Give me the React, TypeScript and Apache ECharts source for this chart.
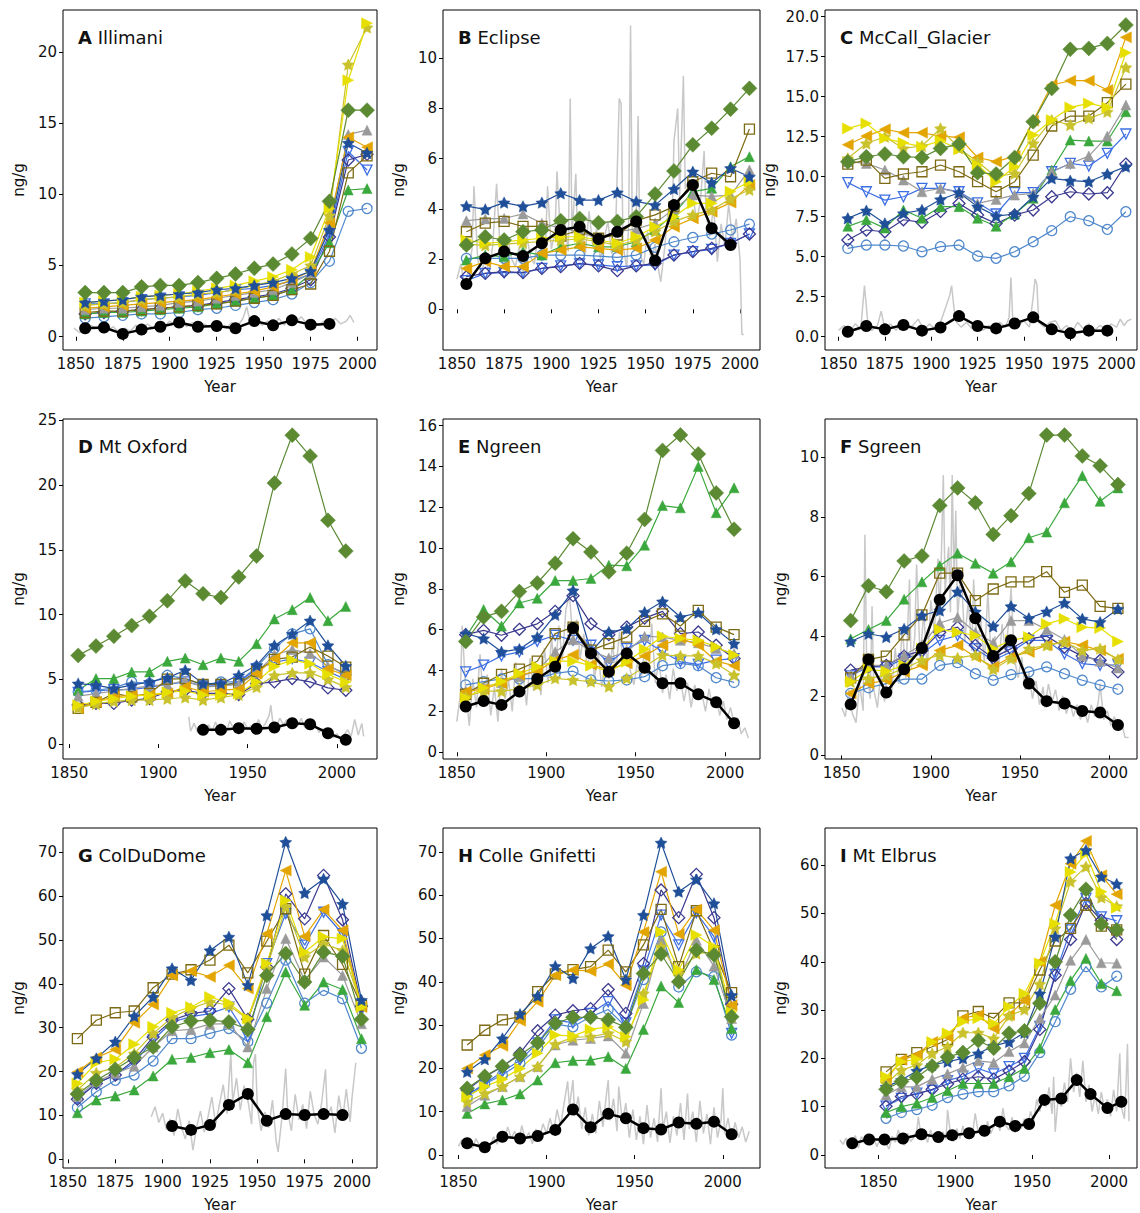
import React, { useEffect, useRef } from "react";
import * as echarts from "echarts";

// ---------- DATA ----------
const DECADES = [1855, 1865, 1875, 1885, 1895, 1905, 1915, 1925, 1935, 1945, 1955, 1965, 1975, 1985, 1995, 2005];

// Panel A - Illimani
const A_MODELS = {
  star: [2.4, 2.5, 2.6, 2.8, 2.9, 3.0, 3.1, 3.3, 3.4, 3.6, 3.8, 4.1, 4.6, 7.5, 13.6, 12.9],
  diamond: [3.1, 3.1, 3.1, 3.5, 3.6, 3.6, 3.8, 4.1, 4.4, 4.8, 5.1, 5.8, 6.9, 9.5, 15.9, 15.9],
  square: [1.7, 1.8, 1.8, 1.9, 2.0, 2.1, 2.2, 2.3, 2.5, 2.7, 2.9, 3.3, 3.7, 6.0, 11.5, 12.7],
  ltri: [2.0, 2.1, 2.2, 2.3, 2.4, 2.5, 2.6, 2.8, 3.0, 3.2, 3.5, 4.0, 4.6, 8.0, 14.0, 13.3],
  ystar: [2.2, 2.3, 2.4, 2.6, 2.7, 2.8, 3.0, 3.1, 3.3, 3.6, 3.9, 4.4, 5.0, 8.5, 19.1, 21.7],
  rtri: [2.4, 2.5, 2.6, 2.8, 2.9, 3.0, 3.2, 3.4, 3.6, 3.9, 4.2, 4.7, 5.6, 9.0, 18.0, 22.0],
  gtri: [1.9, 2.0, 2.0, 2.1, 2.2, 2.4, 2.5, 2.7, 2.9, 3.1, 3.3, 3.8, 4.4, 7.8, 14.2, 14.5],
  grtri: [1.6, 1.7, 1.7, 1.8, 1.9, 2.0, 2.1, 2.3, 2.5, 2.7, 2.9, 3.3, 4.4, 6.6, 10.3, 10.4],
  circ: [1.3, 1.4, 1.5, 1.6, 1.6, 1.7, 1.9, 2.0, 2.2, 2.4, 2.6, 3.0, 3.8, 5.3, 8.8, 9.0],
  dtri: [2.3, 2.3, 2.4, 2.6, 2.7, 2.8, 2.9, 3.1, 3.3, 3.4, 3.6, 3.9, 4.4, 7.2, 13.0, 11.7],
  odia: [1.6, 1.7, 1.8, 1.9, 2.0, 2.1, 2.2, 2.4, 2.6, 2.8, 3.0, 3.4, 4.0, 7.0, 12.4, 12.8],
};
const A_OBS_YEARS = [1855, 1865, 1875, 1885, 1895, 1905, 1915, 1925, 1935, 1945, 1955, 1965, 1975, 1985];
const A_OBS = [0.6, 0.65, 0.2, 0.5, 0.7, 1.0, 0.7, 0.75, 0.6, 1.1, 0.8, 1.15, 0.85, 0.9];
const A_GREY = [[1849,0.6],[1852,0.3],[1855,0.5],[1858,0.8],[1861,0.6],[1864,0.9],[1867,0.5],[1870,0.7],[1873,0.3],[1876,0.6],[1879,0.4],[1882,0.8],[1885,0.5],[1888,0.9],[1891,0.6],[1894,1.0],[1897,0.7],[1900,1.1],[1903,0.8],[1906,1.2],[1909,0.7],[1912,1.0],[1915,0.6],[1918,0.9],[1921,0.7],[1924,1.1],[1927,0.8],[1930,0.6],[1933,1.0],[1936,0.7],[1939,1.3],[1941,2.1],[1943,0.9],[1946,1.4],[1949,0.8],[1952,1.1],[1955,0.7],[1958,1.3],[1961,0.8],[1964,1.5],[1967,1.0],[1970,1.4],[1973,0.9],[1976,1.2],[1979,0.8],[1982,1.1],[1985,0.9],[1988,1.3],[1991,0.9],[1994,1.1],[1996,1.5],[1998,1.0]];

// Panel B - Eclipse
const B_MODELS = {
  star: [4.11, 3.98, 4.25, 4.1, 4.25, 4.62, 4.35, 4.35, 4.65, 4.3, 4.15, 4.79, 5.48, 5.04, 5.62, 5.28],
  diamond: [2.56, 2.89, 2.76, 3.09, 3.16, 3.53, 3.62, 3.45, 3.5, 3.69, 4.59, 5.51, 6.55, 7.21, 7.97, 8.8],
  square: [3.09, 3.43, 3.5, 3.3, 3.3, 2.92, 3.16, 2.83, 2.96, 3.53, 3.76, 4.09, 5.08, 5.42, 5.28, 7.18],
  ltri: [1.63, 1.9, 1.7, 1.7, 2.23, 2.36, 2.49, 2.43, 2.36, 2.43, 2.76, 3.29, 3.62, 3.89, 4.25, 4.95],
  ystar: [2.6, 2.55, 2.6, 2.65, 2.7, 2.75, 2.8, 2.7, 2.55, 2.75, 3.1, 3.5, 3.76, 3.95, 4.4, 4.76],
  rtri: [2.76, 2.63, 2.69, 2.76, 2.83, 2.89, 2.89, 2.76, 2.63, 2.89, 3.29, 3.69, 4.22, 4.22, 4.69, 5.08],
  gtri: [3.53, 3.6, 3.62, 3.8, 3.43, 3.23, 3.09, 2.8, 3.09, 3.2, 3.43, 4.0, 4.55, 4.5, 4.55, 5.55],
  grtri: [1.96, 2.16, 2.1, 2.3, 2.16, 2.49, 2.63, 2.49, 2.49, 2.69, 3.16, 3.8, 4.69, 4.82, 5.68, 6.08],
  circ: [2.03, 2.03, 2.03, 2.03, 2.16, 2.16, 2.16, 2.12, 2.07, 2.16, 2.47, 2.69, 2.86, 3.0, 3.16, 3.39],
  dtri: [1.14, 1.43, 1.46, 1.46, 1.63, 1.73, 1.81, 1.77, 1.7, 1.73, 1.77, 2.16, 2.3, 2.39, 2.63, 3.0],
  odia: [1.3, 1.43, 1.5, 1.46, 1.63, 1.7, 1.83, 1.73, 1.54, 1.73, 1.83, 2.16, 2.3, 2.43, 2.63, 3.0],
};
const B_OBS_YEARS = [1855, 1865, 1875, 1885, 1895, 1905, 1915, 1925, 1935, 1945, 1955, 1965, 1975, 1985, 1995];
const B_OBS = [1.01, 2.03, 2.3, 2.12, 2.63, 3.16, 3.29, 2.8, 3.09, 3.5, 1.94, 4.15, 4.95, 3.23, 2.56];
const B_GREY = [[1850,1.2],[1852,1.8],[1854,1.0],[1856,1.5],[1858,2.4],[1859,4.9],[1861,2.0],[1863,1.3],[1865,2.2],[1867,1.4],[1869,2.6],[1871,5.0],[1873,2.2],[1875,1.6],[1877,2.8],[1879,2.0],[1881,1.7],[1883,2.5],[1885,1.3],[1887,2.9],[1889,2.1],[1891,1.8],[1893,3.0],[1895,2.2],[1897,2.6],[1898,4.9],[1900,2.4],[1902,3.1],[1903,5.5],[1905,2.8],[1907,3.5],[1909,2.3],[1910,8.4],[1911,3.0],[1913,5.4],[1914,2.6],[1916,3.4],[1918,2.2],[1920,3.9],[1922,2.5],[1924,3.2],[1926,2.0],[1928,2.8],[1930,3.5],[1932,2.2],[1934,2.9],[1936,8.4],[1937,8.2],[1938,2.6],[1940,1.6],[1941,3.5],[1942,11.3],[1943,2.4],[1945,3.8],[1946,7.7],[1947,2.2],[1949,1.8],[1951,3.1],[1953,1.9],[1955,2.6],[1957,1.5],[1958,1.1],[1960,2.4],[1962,4.0],[1964,3.2],[1965,6.7],[1967,8.0],[1968,4.4],[1970,9.3],[1971,4.8],[1973,5.2],[1975,4.6],[1977,3.5],[1979,4.3],[1981,6.3],[1982,3.8],[1984,2.9],[1986,4.1],[1988,1.9],[1990,3.4],[1992,2.5],[1994,4.2],[1996,2.8],[1998,3.6],[2000,2.0],[2001,-1.0],[2002,-1.0]];

// Panel C - McCall_Glacier
const C_MODELS = {
  star: [7.4, 7.88, 7.08, 7.71, 7.92, 8.58, 9.0, 8.13, 7.54, 7.67, 8.75, 9.9, 9.75, 9.69, 10.17, 10.63],
  diamond: [10.94, 11.25, 11.42, 11.25, 11.2, 11.77, 12.04, 10.25, 10.17, 11.2, 13.44, 15.52, 17.96, 18.02, 18.33, 19.48],
  square: [10.79, 11.04, 9.9, 10.17, 10.31, 10.73, 10.31, 9.69, 9.06, 9.69, 11.35, 13.17, 13.79, 13.79, 14.63, 15.79],
  ltri: [12.0, 12.54, 12.96, 12.75, 12.75, 12.54, 12.46, 11.2, 10.94, 11.29, 13.5, 15.73, 16.0, 16.0, 15.42, 18.71],
  ystar: [11.15, 12.08, 12.5, 11.77, 11.92, 13.02, 11.77, 10.94, 10.0, 10.2, 12.08, 13.54, 13.23, 13.65, 14.06, 16.83],
  rtri: [13.02, 13.33, 12.4, 12.12, 11.88, 12.25, 11.71, 10.73, 9.69, 10.63, 12.6, 13.54, 14.33, 14.58, 14.33, 17.75],
  gtri: [10.94, 10.83, 10.42, 9.79, 9.06, 9.27, 9.0, 8.33, 8.58, 8.85, 8.96, 10.31, 10.83, 11.29, 12.54, 14.48],
  grtri: [6.9, 7.31, 6.79, 7.92, 7.4, 8.13, 8.13, 7.4, 6.9, 7.67, 8.65, 10.42, 12.29, 12.23, 12.23, 14.06],
  circ: [5.52, 5.73, 5.73, 5.67, 5.31, 5.63, 5.73, 5.04, 4.9, 5.31, 5.94, 6.63, 7.5, 7.25, 6.71, 7.81],
  dtri: [9.63, 9.06, 8.54, 8.75, 9.27, 9.27, 9.06, 8.37, 7.67, 9.0, 9.0, 10.31, 10.83, 10.67, 11.46, 12.67],
  odia: [6.04, 6.67, 6.56, 7.31, 7.15, 7.83, 8.33, 7.6, 7.08, 7.6, 7.92, 8.75, 9.06, 8.92, 9.0, 10.79],
};
const C_OBS_YEARS = [1855, 1865, 1875, 1885, 1895, 1905, 1915, 1925, 1935, 1945, 1955, 1965, 1975, 1985, 1995];
const C_OBS = [0.31, 0.67, 0.46, 0.73, 0.38, 0.58, 1.29, 0.67, 0.52, 0.83, 1.21, 0.46, 0.21, 0.38, 0.38];
const C_GREY = [[1850,0.4],[1853,0.7],[1856,0.3],[1859,0.8],[1862,0.5],[1864,3.2],[1866,0.6],[1868,0.4],[1871,0.7],[1873,1.6],[1875,0.5],[1878,0.8],[1881,0.4],[1884,0.9],[1887,0.5],[1890,0.7],[1893,1.1],[1896,0.4],[1899,0.8],[1902,0.5],[1905,0.9],[1908,1.9],[1910,2.6],[1911,3.2],[1913,1.0],[1916,0.6],[1919,0.9],[1922,0.5],[1925,0.8],[1928,0.4],[1931,0.7],[1934,0.5],[1937,0.9],[1940,0.6],[1942,1.2],[1943,3.7],[1944,1.0],[1947,0.7],[1950,1.0],[1953,0.6],[1955,2.5],[1956,3.6],[1957,3.3],[1958,0.9],[1961,0.6],[1964,0.9],[1967,1.0],[1970,0.4],[1973,0.7],[1976,0.3],[1979,0.9],[1982,0.5],[1985,0.8],[1988,0.4],[1991,0.7],[1994,0.5],[1997,0.8],[2000,0.6],[2002,1.1],[2004,0.7],[2006,1.0],[2008,1.1]];

// Panel D - Mt Oxford
const D_MODELS = {
  star: [4.67, 4.55, 4.29, 4.55, 4.8, 5.11, 5.7, 4.67, 4.67, 5.31, 6.08, 7.62, 8.51, 9.53, 7.62, 6.03],
  diamond: [6.85, 7.57, 8.33, 9.15, 9.87, 11.07, 12.6, 11.6, 11.32, 12.9, 14.52, 20.15, 23.85, 22.24, 17.28, 14.9],
  square: [2.76, 3.22, 3.91, 3.65, 3.91, 5.01, 5.06, 4.6, 4.6, 4.67, 5.62, 6.54, 6.72, 7.49, 6.8, 5.95],
  ltri: [2.76, 3.27, 3.65, 3.78, 3.78, 3.91, 4.42, 4.04, 4.16, 4.24, 5.44, 6.59, 7.82, 7.82, 5.82, 5.31],
  ystar: [2.8, 3.1, 3.3, 3.4, 3.4, 3.5, 3.6, 3.4, 3.6, 3.8, 4.4, 5.3, 5.5, 5.5, 5.0, 4.4],
  rtri: [3.0, 3.3, 3.5, 3.7, 3.8, 4.0, 4.1, 3.8, 3.8, 3.9, 4.8, 6.0, 6.5, 6.2, 5.4, 4.8],
  gtri: [3.7, 3.9, 4.1, 4.3, 4.5, 4.6, 4.9, 4.4, 4.5, 4.6, 5.5, 6.9, 7.3, 7.0, 6.0, 5.5],
  grtri: [4.16, 5.06, 5.06, 5.57, 5.57, 6.39, 6.64, 6.13, 6.64, 6.39, 7.75, 9.66, 10.38, 11.32, 9.53, 10.63],
  circ: [4.04, 4.16, 4.34, 4.8, 4.67, 5.31, 5.06, 4.55, 4.8, 4.8, 5.95, 7.41, 8.51, 8.9, 6.13, 5.31],
  dtri: [4.0, 4.1, 4.2, 4.2, 4.4, 4.6, 4.8, 4.5, 4.5, 4.8, 5.8, 6.3, 6.6, 6.3, 5.6, 5.0],
  odia: [3.02, 3.14, 3.14, 3.4, 3.52, 4.04, 4.16, 3.91, 3.91, 3.83, 4.67, 4.8, 5.06, 4.8, 4.34, 4.16],
};
const D_OBS_YEARS = [1925, 1935, 1945, 1955, 1965, 1975, 1985, 1995, 2005];
const D_OBS = [1.1, 1.1, 1.23, 1.18, 1.28, 1.61, 1.53, 0.84, 0.33];
const D_GREY = [[1917,2.1],[1918,1.0],[1920,1.6],[1922,0.9],[1924,1.3],[1926,0.7],[1928,1.5],[1930,1.0],[1932,1.7],[1934,1.1],[1936,1.4],[1938,0.9],[1940,1.8],[1942,1.2],[1944,1.5],[1946,1.0],[1948,1.7],[1950,1.2],[1952,1.4],[1954,0.8],[1956,1.9],[1958,1.2],[1960,1.6],[1962,2.2],[1963,3.0],[1964,1.8],[1966,1.3],[1968,2.0],[1970,1.5],[1972,1.9],[1974,1.2],[1976,1.7],[1978,1.4],[1980,2.0],[1982,1.3],[1984,1.6],[1986,1.1],[1988,1.5],[1990,0.9],[1992,1.2],[1994,0.7],[1996,0.9],[1998,0.5],[2000,0.8],[2002,0.4],[2004,0.7],[2006,1.1],[2008,0.6],[2010,1.9],[2012,0.7],[2014,1.6],[2015,0.6]];

// Panel E - Ngreen
const E_MODELS = {
  star: [5.81, 5.57, 4.92, 5.05, 5.64, 6.73, 7.92, 4.92, 5.89, 6.05, 6.86, 7.38, 6.62, 6.83, 6.02, 5.32],
  diamond: [5.43, 6.62, 6.9, 7.87, 8.29, 9.26, 10.46, 9.81, 8.84, 9.75, 11.4, 14.78, 15.54, 14.61, 12.7, 10.92],
  square: [2.84, 3.38, 3.81, 4.07, 4.46, 5.81, 6.13, 5.0, 5.32, 5.64, 6.41, 6.78, 6.18, 6.95, 6.13, 5.76],
  ltri: [2.97, 3.1, 3.38, 3.78, 3.97, 4.51, 4.78, 4.3, 4.03, 4.35, 4.72, 5.24, 5.59, 5.24, 4.46, 4.24],
  ystar: [2.72, 2.99, 2.99, 3.1, 3.3, 3.62, 3.54, 3.46, 3.22, 3.62, 4.19, 4.76, 4.72, 4.72, 4.35, 3.78],
  rtri: [2.67, 3.16, 3.46, 3.86, 4.19, 4.46, 4.46, 4.24, 3.94, 4.43, 5.05, 5.68, 5.57, 5.48, 5.16, 4.76],
  gtri: [3.0, 3.2, 3.4, 3.7, 4.0, 4.92, 5.51, 4.95, 4.62, 4.92, 5.68, 5.64, 5.48, 5.36, 5.08, 4.84],
  grtri: [5.64, 6.99, 6.18, 7.31, 7.54, 8.41, 8.41, 8.51, 9.16, 9.13, 10.14, 12.08, 11.97, 14.0, 11.73, 12.95],
  circ: [3.3, 3.46, 3.59, 3.59, 3.62, 3.86, 3.97, 3.54, 3.49, 3.54, 3.7, 4.24, 4.35, 4.24, 3.65, 3.42],
  dtri: [3.94, 4.27, 4.72, 4.92, 5.43, 5.73, 5.48, 5.24, 4.35, 5.08, 5.48, 4.92, 4.43, 4.3, 4.51, 4.59],
  odia: [5.76, 5.97, 5.73, 6.02, 6.29, 6.9, 7.67, 6.29, 5.76, 6.13, 6.57, 6.9, 5.81, 5.89, 5.24, 4.59],
};
const E_OBS_YEARS = DECADES;
const E_OBS = [2.24, 2.51, 2.32, 2.97, 3.59, 4.19, 6.08, 4.84, 3.94, 4.84, 4.14, 3.38, 3.38, 2.84, 2.45, 1.42];
const E_GREY = [[1850,1.5],[1852,2.8],[1853,6.2],[1855,3.0],[1857,1.3],[1859,3.6],[1861,2.2],[1863,4.8],[1865,2.4],[1867,3.8],[1869,1.8],[1871,3.2],[1873,1.5],[1875,4.1],[1877,2.6],[1879,3.5],[1881,2.0],[1883,4.4],[1885,2.7],[1887,3.9],[1889,2.3],[1891,4.6],[1893,3.0],[1895,4.2],[1897,2.8],[1899,5.1],[1901,3.4],[1903,5.6],[1905,3.8],[1907,6.2],[1909,4.5],[1911,7.0],[1913,7.7],[1915,5.4],[1917,6.5],[1919,4.6],[1921,5.8],[1923,4.0],[1925,5.5],[1927,3.6],[1929,4.9],[1931,3.2],[1933,4.4],[1935,3.6],[1937,5.2],[1939,4.1],[1941,5.9],[1943,4.5],[1945,5.3],[1947,4.0],[1949,3.3],[1951,4.4],[1953,3.6],[1955,5.0],[1957,3.9],[1959,6.3],[1961,3.4],[1963,4.5],[1965,2.9],[1967,3.8],[1969,2.6],[1971,4.1],[1973,3.0],[1975,3.6],[1977,2.5],[1979,3.4],[1981,2.2],[1983,3.3],[1985,2.6],[1987,2.9],[1989,2.0],[1991,3.1],[1993,2.2],[1995,2.7],[1997,1.8],[1999,2.5],[2001,1.6],[2003,2.2],[2005,1.4],[2007,1.7],[2009,0.9],[2011,1.2],[2013,0.7]];

// Panel F - Sgreen
const F_MODELS = {
  star: [3.82, 4.08, 3.97, 4.24, 4.69, 4.86, 5.49, 4.82, 4.33, 5.0, 4.6, 4.82, 5.11, 4.58, 4.47, 4.91],
  diamond: [4.52, 5.69, 5.49, 6.52, 6.69, 8.38, 8.97, 8.47, 7.41, 8.04, 8.78, 10.74, 10.74, 10.04, 9.71, 9.08],
  square: [2.6, 3.22, 3.33, 4.04, 4.71, 6.11, 6.11, 5.19, 5.58, 5.82, 5.82, 6.16, 5.47, 5.71, 5.0, 4.93],
  ltri: [2.08, 2.41, 2.52, 2.8, 3.02, 3.52, 3.69, 3.3, 2.97, 3.3, 3.47, 3.69, 3.82, 3.69, 3.52, 3.24],
  ystar: [2.47, 2.58, 2.69, 2.91, 3.19, 3.36, 3.27, 3.36, 2.89, 3.24, 3.58, 3.69, 3.8, 3.52, 3.58, 3.22],
  rtri: [2.47, 2.89, 2.82, 3.02, 3.58, 4.22, 4.13, 4.02, 3.58, 3.86, 3.97, 4.41, 4.58, 4.3, 4.27, 3.82],
  gtri: [2.69, 3.02, 3.02, 3.36, 3.71, 4.44, 4.63, 4.13, 3.78, 4.52, 4.52, 4.22, 3.89, 3.33, 3.16, 2.93],
  grtri: [3.91, 4.22, 4.52, 5.24, 5.82, 6.36, 6.78, 6.44, 6.11, 6.49, 7.3, 7.49, 8.47, 9.38, 8.52, 8.97],
  circ: [2.08, 2.27, 2.41, 2.56, 2.56, 3.02, 3.11, 2.74, 2.52, 2.71, 2.8, 2.97, 2.74, 2.52, 2.36, 2.22],
  dtri: [2.67, 2.97, 2.97, 3.24, 3.41, 3.86, 4.02, 3.58, 3.19, 3.47, 3.86, 3.86, 3.41, 3.08, 3.02, 3.04],
  odia: [2.86, 2.97, 3.02, 3.33, 3.52, 4.13, 4.3, 3.69, 3.27, 3.58, 3.91, 4.0, 3.63, 3.33, 3.19, 2.8],
};
const F_OBS_YEARS = DECADES;
const F_OBS = [1.71, 3.22, 2.11, 2.89, 3.6, 5.22, 6.04, 4.6, 3.33, 3.86, 2.41, 1.82, 1.74, 1.49, 1.44, 1.02];
const F_GREY = [[1850,1.6],[1852,1.3],[1854,2.2],[1856,1.4],[1858,1.1],[1860,2.4],[1862,1.5],[1863,7.4],[1864,3.0],[1866,1.9],[1867,5.0],[1868,2.2],[1870,1.6],[1872,2.8],[1874,1.8],[1876,3.2],[1878,2.1],[1880,3.6],[1882,2.4],[1884,4.3],[1886,2.6],[1888,5.9],[1889,2.9],[1891,4.0],[1892,6.4],[1894,3.2],[1896,4.8],[1898,2.9],[1900,5.2],[1902,4.1],[1904,6.6],[1905,4.5],[1907,9.4],[1908,5.5],[1910,7.0],[1911,4.8],[1912,9.4],[1913,5.8],[1914,8.2],[1915,4.6],[1917,6.2],[1919,3.8],[1921,5.2],[1923,3.5],[1924,5.9],[1926,3.6],[1928,4.6],[1930,3.1],[1932,5.5],[1934,3.0],[1936,4.0],[1938,2.9],[1940,4.4],[1942,3.4],[1944,4.7],[1945,5.6],[1947,3.2],[1949,2.6],[1951,3.3],[1953,2.2],[1955,2.8],[1957,1.9],[1959,2.5],[1961,1.7],[1963,2.3],[1964,1.6],[1966,2.4],[1968,1.8],[1970,2.2],[1972,1.5],[1974,2.0],[1976,1.4],[1978,1.8],[1980,1.3],[1982,1.7],[1984,1.2],[1986,1.6],[1988,1.1],[1990,1.7],[1992,1.3],[1994,1.8],[1995,2.4],[1997,1.2],[1999,1.5],[2001,1.0],[2003,1.3],[2005,0.9],[2007,1.1],[2009,0.6],[2011,0.6]];

// Panel G - ColDuDome
const G_MODELS = {
  star: [19.4, 23.0, 26.8, 32.6, 37.0, 43.5, 40.8, 47.6, 50.7, 39.7, 55.6, 72.3, 60.7, 63.9, 58.2, 36.3],
  diamond: [14.9, 18.0, 20.5, 23.2, 25.6, 30.2, 31.5, 31.7, 31.3, 29.6, 41.9, 46.9, 40.4, 47.2, 46.3, 31.9],
  square: [27.5, 31.7, 33.4, 33.8, 39.1, 42.2, 43.2, 45.4, 48.8, 42.5, 49.7, 57.1, 42.2, 51.0, 44.4, 35.1],
  ltri: [19.9, 23.2, 25.0, 31.1, 35.3, 41.9, 42.9, 41.6, 44.2, 38.9, 51.4, 65.8, 50.8, 56.9, 52.2, 34.7],
  ystar: [15.8, 19.7, 20.9, 24.1, 28.7, 32.3, 34.4, 35.9, 35.1, 31.9, 43.5, 57.5, 46.1, 49.1, 47.6, 35.1],
  rtri: [17.3, 22.0, 22.8, 26.2, 30.2, 33.4, 34.7, 37.0, 35.6, 32.1, 44.6, 59.0, 47.2, 50.7, 50.3, 34.7],
  gtri: [14.3, 17.7, 19.6, 21.2, 25.6, 29.3, 29.6, 30.8, 30.9, 25.6, 38.9, 50.3, 40.8, 46.1, 41.9, 30.9],
  grtri: [10.6, 13.5, 14.4, 15.8, 19.0, 22.8, 23.2, 24.3, 25.0, 22.0, 32.5, 42.7, 35.1, 40.4, 38.7, 27.5],
  circ: [11.8, 15.4, 18.0, 19.2, 22.4, 27.5, 27.5, 28.7, 29.8, 26.8, 35.6, 45.4, 35.6, 38.5, 36.6, 25.3],
  dtri: [13.9, 17.3, 19.2, 22.0, 27.2, 31.3, 32.5, 33.2, 34.7, 27.9, 44.6, 56.0, 48.8, 56.3, 51.4, 34.0],
  odia: [13.7, 17.3, 19.2, 22.6, 27.9, 31.7, 33.2, 33.8, 38.9, 31.9, 43.8, 60.5, 54.8, 64.7, 54.6, 34.9],
};
const G_OBS_YEARS = [1905, 1915, 1925, 1935, 1945, 1955, 1965, 1975, 1985, 1995];
const G_OBS = [7.6, 6.7, 7.8, 12.4, 14.9, 8.8, 10.3, 10.1, 10.3, 10.1];
const G_GREY = [[1894,9.7],[1896,12.0],[1898,8.4],[1900,10.5],[1902,6.8],[1904,9.2],[1906,5.4],[1908,11.5],[1910,7.2],[1912,4.6],[1914,8.8],[1916,2.1],[1918,7.5],[1920,11.0],[1922,6.2],[1924,9.8],[1926,14.2],[1928,8.0],[1930,12.5],[1932,17.0],[1934,10.4],[1936,24.0],[1937,13.0],[1939,18.5],[1941,11.2],[1943,16.8],[1945,13.5],[1947,8.0],[1948,22.0],[1949,24.0],[1950,12.0],[1952,6.5],[1954,10.8],[1956,7.2],[1958,13.5],[1960,4.0],[1961,1.7],[1963,9.5],[1965,20.7],[1966,11.0],[1968,6.5],[1970,14.8],[1972,9.0],[1974,12.5],[1976,7.0],[1978,15.5],[1980,10.2],[1982,8.0],[1984,13.0],[1986,20.5],[1987,9.5],[1989,12.0],[1991,6.0],[1993,14.5],[1995,9.0],[1997,16.0],[1999,8.5],[2000,14.0],[2002,22.0]];

// Panel H - Colle Gnifetti
const H_MODELS = {
  star: [19.2, 22.1, 26.9, 32.5, 36.7, 43.6, 40.8, 47.7, 50.5, 40.5, 55.4, 72.1, 60.8, 63.6, 58.1, 36.9],
  diamond: [15.4, 18.2, 20.5, 23.1, 25.9, 30.4, 31.8, 31.8, 31.2, 29.5, 41.9, 46.4, 40.0, 47.3, 46.2, 31.9],
  square: [25.4, 28.8, 31.2, 31.9, 37.7, 41.8, 42.8, 43.5, 47.3, 42.3, 48.5, 56.7, 43.5, 56.4, 47.2, 37.5],
  ltri: [20.0, 23.1, 25.2, 31.0, 35.4, 41.5, 42.7, 42.5, 44.1, 39.2, 51.5, 65.4, 51.0, 56.7, 51.9, 34.6],
  ystar: [12.3, 14.2, 15.8, 18.1, 20.4, 25.6, 27.2, 27.3, 28.1, 26.2, 37.3, 48.1, 41.9, 46.5, 46.9, 31.9],
  rtri: [13.5, 15.8, 17.5, 20.0, 23.5, 27.7, 27.5, 29.0, 29.6, 27.3, 35.8, 51.5, 42.7, 50.8, 48.1, 33.1],
  gtri: [11.2, 13.8, 15.8, 18.1, 20.4, 25.4, 26.5, 26.9, 27.5, 23.5, 35.0, 49.6, 40.4, 49.6, 43.6, 31.5],
  grtri: [9.6, 11.8, 12.7, 14.1, 17.3, 21.3, 21.8, 21.9, 22.7, 20.0, 29.0, 39.0, 35.2, 42.8, 40.5, 29.2],
  circ: [13.3, 16.4, 18.5, 21.2, 24.6, 30.2, 29.6, 31.9, 33.6, 29.6, 40.5, 51.5, 38.8, 42.3, 41.2, 27.7],
  dtri: [13.8, 16.5, 19.2, 21.9, 25.9, 31.2, 30.5, 32.7, 35.4, 30.5, 42.5, 55.4, 48.5, 55.9, 50.4, 28.1],
  odia: [15.0, 18.1, 20.4, 23.5, 28.7, 32.3, 33.3, 33.8, 38.2, 32.7, 44.2, 61.2, 54.8, 64.8, 54.8, 34.8],
};
const H_OBS_YEARS = DECADES;
const H_OBS = [2.7, 1.8, 4.2, 3.8, 4.4, 5.8, 10.5, 6.4, 9.5, 8.5, 6.2, 5.9, 7.5, 7.2, 7.7, 4.8];
const H_GREY = [[1850,2.0],[1852,3.5],[1854,1.8],[1856,3.0],[1858,1.5],[1860,3.8],[1862,2.2],[1864,1.2],[1866,3.0],[1868,2.0],[1870,4.2],[1872,2.5],[1874,5.0],[1876,3.2],[1878,6.5],[1880,3.8],[1882,5.5],[1884,2.8],[1886,6.8],[1888,3.5],[1890,5.2],[1892,2.6],[1894,6.0],[1896,4.0],[1898,7.2],[1900,5.0],[1902,8.5],[1904,5.5],[1906,10.5],[1908,6.8],[1910,12.0],[1912,17.0],[1913,11.0],[1915,17.3],[1916,9.0],[1918,13.5],[1920,6.0],[1922,11.0],[1924,4.5],[1926,9.5],[1928,5.0],[1930,12.5],[1932,6.5],[1934,14.0],[1935,17.3],[1936,8.0],[1938,13.0],[1940,5.5],[1941,15.8],[1943,7.5],[1945,12.0],[1947,4.0],[1949,10.5],[1951,3.5],[1953,9.0],[1955,2.5],[1957,11.5],[1959,4.0],[1961,8.5],[1963,3.0],[1965,15.4],[1966,6.0],[1968,10.0],[1970,2.8],[1972,9.0],[1974,4.5],[1976,12.0],[1978,3.5],[1980,14.2],[1981,6.0],[1983,10.0],[1985,3.0],[1987,12.5],[1989,5.0],[1991,9.5],[1993,2.5],[1995,11.0],[1997,4.0],[1999,8.0],[2000,15.4],[2001,5.0],[2003,8.5],[2005,3.5],[2007,7.5],[2009,4.0],[2011,6.5],[2013,3.0],[2015,5.5]];

// Panel I - Mt Elbrus
const I_MODELS = {
  star: [14.1, 15.5, 17.4, 18.6, 19.3, 20.0, 21.0, 22.6, 23.4, 25.3, 33.4, 45.2, 61.4, 63.1, 57.6, 56.1],
  diamond: [13.6, 15.2, 16.1, 18.4, 20.3, 21.2, 23.7, 22.1, 25.2, 25.7, 31.4, 40.0, 49.7, 55.0, 47.8, 46.6],
  square: [17.2, 19.8, 21.2, 22.4, 23.9, 28.8, 29.7, 28.3, 31.5, 31.5, 38.3, 44.3, 46.9, 51.7, 47.4, 46.6],
  ltri: [15.5, 19.7, 20.7, 23.4, 24.5, 28.3, 29.0, 26.2, 29.0, 32.0, 40.0, 51.7, 60.3, 65.0, 57.9, 54.0],
  ystar: [14.8, 17.6, 18.6, 21.0, 22.4, 25.3, 25.3, 24.1, 28.8, 30.1, 35.4, 46.9, 56.6, 59.7, 53.3, 51.5],
  rtri: [16.2, 19.3, 19.8, 23.4, 25.2, 27.6, 28.3, 27.2, 30.7, 33.4, 39.7, 47.9, 58.6, 62.4, 54.5, 51.2],
  gtri: [12.4, 14.1, 14.1, 15.7, 16.8, 18.1, 19.5, 19.1, 21.4, 23.2, 28.3, 33.1, 40.3, 44.6, 39.8, 39.7],
  grtri: [8.8, 10.0, 10.7, 11.9, 13.3, 14.8, 14.8, 14.8, 16.2, 17.9, 22.1, 30.1, 36.1, 40.7, 35.5, 34.0],
  circ: [7.6, 8.8, 9.4, 10.3, 11.9, 12.6, 13.1, 13.1, 14.3, 16.3, 21.2, 27.6, 34.3, 39.0, 34.8, 37.0],
  dtri: [10.1, 11.7, 12.8, 13.4, 15.4, 16.3, 17.9, 16.8, 18.3, 20.0, 26.6, 37.4, 46.6, 53.1, 49.3, 48.5],
  odia: [10.1, 12.1, 12.6, 13.6, 14.7, 15.7, 16.2, 15.7, 17.4, 19.3, 26.0, 37.2, 44.6, 52.1, 48.6, 44.6],
};
const I_OBS_YEARS = [1833, 1844, 1854, 1866, 1878, 1889, 1898, 1909, 1919, 1929, 1939, 1948, 1958, 1969, 1979, 1988, 1999, 2008];
const I_OBS = [2.4, 3.2, 3.2, 3.4, 4.3, 3.7, 4.1, 4.5, 5.0, 6.9, 6.0, 6.4, 11.4, 11.7, 15.5, 12.6, 9.7, 11.0];
const I_GREY = [[1825,3.1],[1827,2.2],[1829,3.5],[1831,1.8],[1833,2.8],[1835,4.0],[1837,1.5],[1839,3.8],[1841,2.5],[1843,4.4],[1845,2.0],[1847,3.6],[1849,1.7],[1851,3.2],[1853,4.2],[1855,2.4],[1857,1.2],[1859,3.9],[1861,2.6],[1863,5.2],[1865,3.0],[1867,2.0],[1869,4.5],[1871,2.8],[1873,3.6],[1875,5.0],[1876,7.9],[1878,3.4],[1880,4.6],[1882,2.6],[1884,5.2],[1886,3.1],[1888,4.0],[1890,2.5],[1892,4.8],[1894,3.2],[1895,9.3],[1897,4.1],[1899,2.8],[1901,5.5],[1903,3.4],[1905,6.0],[1907,3.6],[1909,5.0],[1911,3.9],[1913,8.6],[1915,4.5],[1917,6.2],[1919,3.8],[1921,7.0],[1923,4.4],[1925,5.8],[1927,8.0],[1929,5.0],[1931,9.7],[1933,6.0],[1935,5.2],[1937,7.8],[1939,4.6],[1941,6.8],[1943,5.5],[1945,7.5],[1947,6.0],[1949,9.0],[1951,7.0],[1953,11.5],[1955,9.0],[1957,12.5],[1959,10.0],[1961,14.0],[1963,8.5],[1964,16.2],[1965,4.8],[1967,12.0],[1969,10.0],[1971,15.0],[1973,11.0],[1975,20.0],[1977,13.0],[1979,17.0],[1981,12.0],[1983,19.5],[1985,11.0],[1987,14.5],[1989,9.0],[1991,12.5],[1993,8.5],[1995,13.0],[1997,9.5],[1999,11.5],[2001,8.0],[2003,13.5],[2005,9.0],[2007,21.0],[2008,10.0],[2010,7.5],[2011,14.0],[2012,23.0],[2013,7.0]];

const PANEL_LETTERS = ["A", "B", "C", "D", "E", "F", "G", "H", "I"];
const PANEL_NAMES = ["Illimani", "Eclipse", "McCall_Glacier", "Mt Oxford", "Ngreen", "Sgreen", "ColDuDome", "Colle Gnifetti", "Mt Elbrus"];
const X_TICKS_25 = [1850, 1875, 1900, 1925, 1950, 1975, 2000];
const X_TICKS_50 = [1850, 1900, 1950, 2000];
const Y_TICKS_A = [0, 5, 10, 15, 20];
const Y_TICKS_B = [0, 2, 4, 6, 8, 10];
const Y_TICKS_C = [0, 2.5, 5, 7.5, 10, 12.5, 15, 17.5, 20];
const Y_TICKS_D = [0, 5, 10, 15, 20, 25];
const Y_TICKS_E = [0, 2, 4, 6, 8, 10, 12, 14, 16];
const Y_TICKS_F = [0, 2, 4, 6, 8, 10];
const Y_TICKS_G = [0, 10, 20, 30, 40, 50, 60, 70];
const Y_TICKS_I = [0, 10, 20, 30, 40, 50, 60];

// ---------- LAYOUT / STYLE ----------
const COL_LEFT = [63, 443, 825];
const COL_WIDTH = [314, 317, 312];
const ROW_TOP = [10, 419, 828];
const ROW_HEIGHT = 340;

const PANEL_AXES = [
  { xMin: 1843.2, xMax: 2010.3, xTicks: X_TICKS_25, yMin: -0.93, yMax: 22.93, yTicks: Y_TICKS_A, dec: 0 },
  { xMin: 1842.6, xMax: 2010.6, xTicks: X_TICKS_25, yMin: -1.62, yMax: 11.92, yTicks: Y_TICKS_B, dec: 0 },
  { xMin: 1842.7, xMax: 2011.0, xTicks: X_TICKS_25, yMin: -0.83, yMax: 20.42, yTicks: Y_TICKS_C, dec: 1 },
  { xMin: 1846.5, xMax: 2022.5, xTicks: X_TICKS_50, yMin: -1.15, yMax: 25.1, yTicks: Y_TICKS_D, dec: 0 },
  { xMin: 1842.3, xMax: 2019.5, xTicks: X_TICKS_50, yMin: -0.33, yMax: 16.32, yTicks: Y_TICKS_E, dec: 0 },
  { xMin: 1840.6, xMax: 2015.7, xTicks: X_TICKS_50, yMin: -0.12, yMax: 11.28, yTicks: Y_TICKS_F, dec: 0 },
  { xMin: 1847.4, xMax: 2013.2, xTicks: X_TICKS_25, yMin: -1.98, yMax: 75.5, yTicks: Y_TICKS_G, dec: 0 },
  { xMin: 1841.3, xMax: 2021.1, xTicks: X_TICKS_50, yMin: -3.0, yMax: 75.5, yTicks: Y_TICKS_G, dec: 0 },
  { xMin: 1815.3, xMax: 2018.2, xTicks: X_TICKS_50, yMin: -2.7, yMax: 67.7, yTicks: Y_TICKS_I, dec: 0 },
];

const STAR = "path://M0,-10L2.939,-4.045L9.511,-3.09L4.755,1.545L5.878,8.09L0,5L-5.878,8.09L-4.755,1.545L-9.511,-3.09L-2.939,-4.045Z";

const MODEL_STYLE: Record<string, any> = {
  circ: { color: "#4f88cc", symbol: "circle", size: 10, filled: false, rotate: 0 },
  dtri: { color: "#3d6fe4", symbol: "triangle", size: 10, filled: false, rotate: 180 },
  odia: { color: "#3b3a8f", symbol: "diamond", size: 12, filled: false, rotate: 0 },
  grtri: { color: "#3aa83c", symbol: "triangle", size: 10, filled: true, rotate: 0 },
  gtri: { color: "#9a9a9a", symbol: "triangle", size: 10, filled: true, rotate: 0 },
  square: { color: "#7d6a12", symbol: "rect", size: 10, filled: false, rotate: 0 },
  ltri: { color: "#e3a500", symbol: "triangle", size: 11, filled: true, rotate: 90 },
  ystar: { color: "#c9c22c", symbol: STAR, size: 12, filled: true, rotate: 0 },
  rtri: { color: "#e7df00", symbol: "triangle", size: 11, filled: true, rotate: -90 },
  star: { color: "#1f4f98", symbol: STAR, size: 12, filled: true, rotate: 0 },
  diamond: { color: "#5b8a33", symbol: "diamond", size: 15, filled: true, rotate: 0 },
};
const DRAW_ORDER = ["circ", "dtri", "odia", "grtri", "gtri", "square", "ltri", "ystar", "rtri", "star", "diamond"];

const PANEL_DATA = [
  { models: A_MODELS, obsYears: A_OBS_YEARS, obs: A_OBS, grey: A_GREY },
  { models: B_MODELS, obsYears: B_OBS_YEARS, obs: B_OBS, grey: B_GREY },
  { models: C_MODELS, obsYears: C_OBS_YEARS, obs: C_OBS, grey: C_GREY },
  { models: D_MODELS, obsYears: D_OBS_YEARS, obs: D_OBS, grey: D_GREY },
  { models: E_MODELS, obsYears: E_OBS_YEARS, obs: E_OBS, grey: E_GREY },
  { models: F_MODELS, obsYears: F_OBS_YEARS, obs: F_OBS, grey: F_GREY },
  { models: G_MODELS, obsYears: G_OBS_YEARS, obs: G_OBS, grey: G_GREY },
  { models: H_MODELS, obsYears: H_OBS_YEARS, obs: H_OBS, grey: H_GREY },
  { models: I_MODELS, obsYears: I_OBS_YEARS, obs: I_OBS, grey: I_GREY },
];

const FONT = "DejaVu Sans";
const TICK_FONT = 15;

function buildOption() {
  const grid: any[] = [];
  const xAxis: any[] = [];
  const yAxis: any[] = [];
  const series: any[] = [];
  const title: any[] = [];

  for (let i = 0; i < 9; i++) {
    const r = Math.floor(i / 3);
    const c = i % 3;
    const ax = PANEL_AXES[i];
    const left = COL_LEFT[c];
    const top = ROW_TOP[r];
    grid.push({
      left, top, width: COL_WIDTH[c], height: ROW_HEIGHT,
      show: true, borderColor: "#000", borderWidth: 1, backgroundColor: "transparent",
      containLabel: false,
    });
    xAxis.push({
      type: "value", gridIndex: i, min: ax.xMin, max: ax.xMax,
      name: "Year", nameLocation: "middle", nameGap: 29,
      nameTextStyle: { fontFamily: FONT, fontSize: TICK_FONT, color: "#111" },
      axisLine: { show: false },
      splitLine: { show: false },
      axisTick: { show: true, length: 4, lineStyle: { color: "#000" }, customValues: ax.xTicks },
      axisLabel: { fontFamily: FONT, fontSize: TICK_FONT, color: "#111", margin: 6, customValues: ax.xTicks, formatter: (v: number) => String(v) },
    });
    const dec = ax.dec;
    yAxis.push({
      type: "value", gridIndex: i, min: ax.yMin, max: ax.yMax,
      name: "ng/g", nameLocation: "middle", nameRotate: 90, nameGap: dec ? 48 : 37,
      nameTextStyle: { fontFamily: FONT, fontSize: TICK_FONT, color: "#111" },
      axisLine: { show: false },
      splitLine: { show: false },
      axisTick: { show: true, length: 4, lineStyle: { color: "#000" }, customValues: ax.yTicks },
      axisLabel: { fontFamily: FONT, fontSize: TICK_FONT, color: "#111", margin: 6, customValues: ax.yTicks, formatter: (v: number) => v.toFixed(dec) },
    });
    title.push({
      text: "{b|" + PANEL_LETTERS[i] + "} " + PANEL_NAMES[i],
      left: left + 15, top: top + 18, padding: 0,
      textStyle: {
        fontFamily: FONT, fontSize: 18, fontWeight: "normal", color: "#111",
        rich: { b: { fontFamily: FONT, fontSize: 18, fontWeight: "bold", color: "#111" } },
      },
    });

    const pd = PANEL_DATA[i];
    series.push({
      type: "line", xAxisIndex: i, yAxisIndex: i, data: pd.grey,
      symbol: "none", showSymbol: false, silent: true, z: 1,
      lineStyle: { color: "#c8c8c8", width: 1.5 },
      emphasis: { disabled: true },
    });
    for (const key of DRAW_ORDER) {
      const st = MODEL_STYLE[key];
      const vals: number[] = (pd.models as any)[key];
      series.push({
        type: "line", xAxisIndex: i, yAxisIndex: i,
        data: DECADES.map((d, j) => [d, vals[j]]),
        symbol: st.symbol, symbolSize: st.size, symbolRotate: st.rotate, symbolKeepAspect: true,
        showSymbol: true, z: 2, silent: true,
        lineStyle: { color: st.color, width: 1.2 },
        itemStyle: st.filled
          ? { color: st.color, borderColor: st.color, borderWidth: 0.5 }
          : { color: "rgba(255,255,255,0)", borderColor: st.color, borderWidth: 1.3 },
        emphasis: { disabled: true },
      });
    }
    series.push({
      type: "line", xAxisIndex: i, yAxisIndex: i,
      data: pd.obsYears.map((y, j) => [y, pd.obs[j]]),
      symbol: "circle", symbolSize: 12, showSymbol: true, z: 3, silent: true,
      lineStyle: { color: "#000", width: 2.5 },
      itemStyle: { color: "#000" },
      emphasis: { disabled: true },
    });
  }

  return {
    animation: false,
    backgroundColor: "#fff",
    title, grid, xAxis, yAxis, series,
  };
}

export default function App() {
  const ref = useRef<HTMLDivElement>(null);
  useEffect(() => {
    if (!ref.current) return;
    const chart = echarts.init(ref.current, undefined, { renderer: "svg" });
    chart.setOption(buildOption() as any);
    return () => chart.dispose();
  }, []);
  return (
    <div
      ref={ref}
      style={{ position: "absolute", left: 0, top: 0, width: 1140, height: 1213, background: "#fff" }}
    />
  );
}
